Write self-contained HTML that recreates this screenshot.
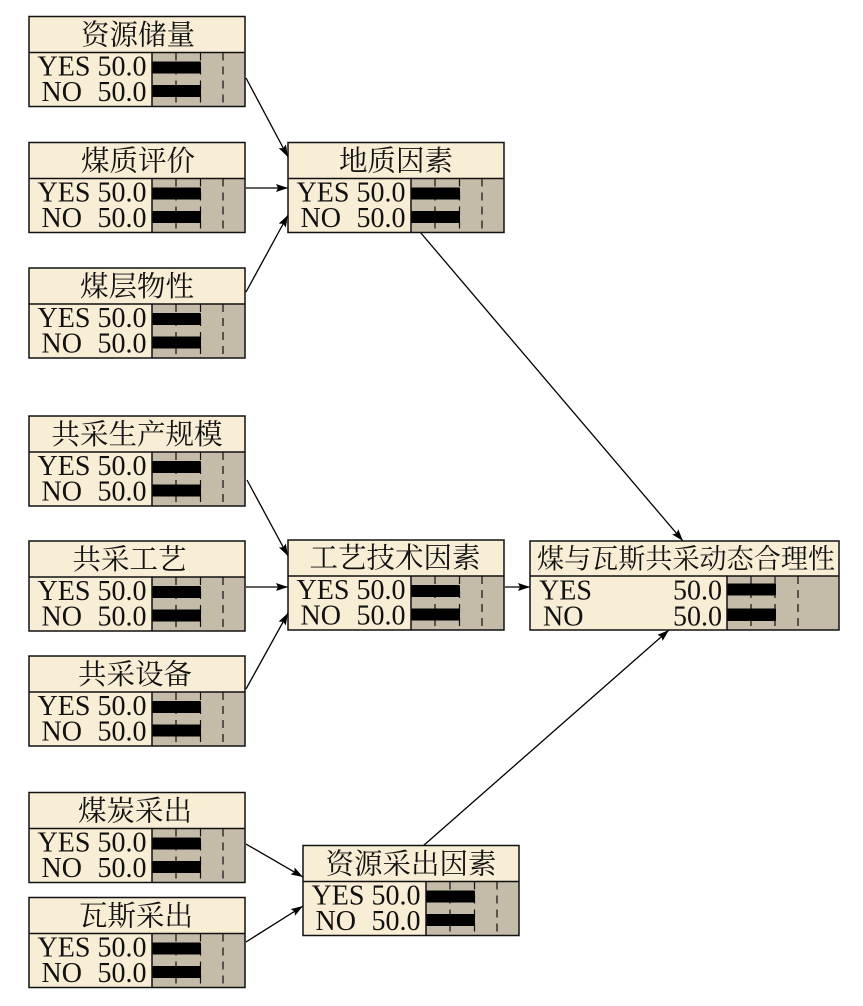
<!DOCTYPE html>
<html><head><meta charset="utf-8"><style>
html,body{margin:0;padding:0;background:#fff}
svg{display:block}
.t{font-family:"Liberation Serif","Noto Serif CJK SC",serif;font-size:28px;fill:#111}
.h{font-size:28.500px}
.c{text-anchor:middle}
.r{text-anchor:end}
.b{fill:#f8eed5}
.g{fill:#c4bba8}
</style></head><body>
<svg width="863" height="1006" viewBox="0 0 863 1006" xmlns="http://www.w3.org/2000/svg">
<defs>
<marker id="a" markerUnits="userSpaceOnUse" markerWidth="12" markerHeight="8" refX="12" refY="4" orient="auto"><path d="M0 0L12 4L0 8L2 4Z" fill="#000"/></marker>
<g id="n">
<rect x="0" y="0" width="216" height="90" class="b"/>
<rect x="123" y="36" width="93" height="54" class="g"/>
<path d="M147 36V90M171.500 36V90M194 36V90" stroke="#111" stroke-width="1.200" stroke-dasharray="8 6" fill="none"/>
<rect x="123" y="45" width="49" height="12" rx="1" fill="#000"/>
<rect x="123" y="68.500" width="49" height="12" rx="1" fill="#000"/>
<path d="M123 36V90M0 36H216" stroke="#111" stroke-width="1.500" fill="none"/>
<rect x="0" y="0" width="216" height="90" fill="none" stroke="#111" stroke-width="1.500"/>
</g>
<g id="m">
<rect x="0" y="0" width="309" height="89" class="b"/>
<rect x="197" y="35" width="112" height="54" class="g"/>
<path d="M221 35V89M245 35V89M268 35V89" stroke="#111" stroke-width="1.200" stroke-dasharray="8 6" fill="none"/>
<rect x="197" y="42.500" width="49" height="12" rx="1" fill="#000"/>
<rect x="197" y="67.500" width="49" height="12.500" rx="1" fill="#000"/>
<path d="M197 35V89M0 35H309" stroke="#111" stroke-width="1.500" fill="none"/>
<rect x="0" y="0" width="309" height="89" fill="none" stroke="#111" stroke-width="1.500"/>
</g>
</defs>

<g stroke="#000" stroke-width="1.300" fill="none">
<line x1="246" y1="78" x2="288" y2="157" marker-end="url(#a)"/>
<line x1="246" y1="188" x2="288" y2="188" marker-end="url(#a)"/>
<line x1="246" y1="292" x2="288" y2="215" marker-end="url(#a)"/>
<line x1="247" y1="480" x2="288" y2="556" marker-end="url(#a)"/>
<line x1="246" y1="587" x2="288" y2="587" marker-end="url(#a)"/>
<line x1="246" y1="689" x2="288" y2="613" marker-end="url(#a)"/>
<line x1="246" y1="844" x2="303" y2="877" marker-end="url(#a)"/>
<line x1="246" y1="942" x2="303" y2="906" marker-end="url(#a)"/>
<line x1="420" y1="232" x2="683" y2="541" marker-end="url(#a)"/>
<line x1="505" y1="587" x2="530" y2="587" marker-end="url(#a)"/>
<line x1="423" y1="846" x2="669" y2="630" marker-end="url(#a)"/>
</g>

<g transform="translate(29,16.500)"><use href="#n"/><text x="109" y="28" class="t h c">资源储量</text><text x="8.500" y="59" class="t">YES</text><text x="117.500" y="59" class="t r">50.0</text><text x="12.500" y="84.500" class="t">NO</text><text x="117.500" y="84.500" class="t r">50.0</text></g>
<g transform="translate(29,142.500)"><use href="#n"/><text x="109" y="28" class="t h c">煤质评价</text><text x="8.500" y="59" class="t">YES</text><text x="117.500" y="59" class="t r">50.0</text><text x="12.500" y="84.500" class="t">NO</text><text x="117.500" y="84.500" class="t r">50.0</text></g>
<g transform="translate(29,268)"><use href="#n"/><text x="108" y="28" class="t h c">煤层物性</text><text x="8.500" y="59" class="t">YES</text><text x="117.500" y="59" class="t r">50.0</text><text x="12.500" y="84.500" class="t">NO</text><text x="117.500" y="84.500" class="t r">50.0</text></g>
<g transform="translate(29,416)"><use href="#n"/><text x="108" y="28" class="t h c">共采生产规模</text><text x="8.500" y="59" class="t">YES</text><text x="117.500" y="59" class="t r">50.0</text><text x="12.500" y="84.500" class="t">NO</text><text x="117.500" y="84.500" class="t r">50.0</text></g>
<g transform="translate(29,541)"><use href="#n"/><text x="100.500" y="28" class="t h c">共采工艺</text><text x="8.500" y="59" class="t">YES</text><text x="117.500" y="59" class="t r">50.0</text><text x="12.500" y="84.500" class="t">NO</text><text x="117.500" y="84.500" class="t r">50.0</text></g>
<g transform="translate(29,656)"><use href="#n"/><text x="106" y="28" class="t h c">共采设备</text><text x="8.500" y="59" class="t">YES</text><text x="117.500" y="59" class="t r">50.0</text><text x="12.500" y="84.500" class="t">NO</text><text x="117.500" y="84.500" class="t r">50.0</text></g>
<g transform="translate(29,792.500)"><use href="#n"/><text x="106" y="28" class="t h c">煤炭采出</text><text x="8.500" y="59" class="t">YES</text><text x="117.500" y="59" class="t r">50.0</text><text x="12.500" y="84.500" class="t">NO</text><text x="117.500" y="84.500" class="t r">50.0</text></g>
<g transform="translate(29,897.500)"><use href="#n"/><text x="107" y="28" class="t h c">瓦斯采出</text><text x="8.500" y="59" class="t">YES</text><text x="117.500" y="59" class="t r">50.0</text><text x="12.500" y="84.500" class="t">NO</text><text x="117.500" y="84.500" class="t r">50.0</text></g>

<g transform="translate(288,142.500)"><use href="#n"/><text x="108" y="28" class="t h c">地质因素</text><text x="8.500" y="59" class="t">YES</text><text x="117.500" y="59" class="t r">50.0</text><text x="12.500" y="84.500" class="t">NO</text><text x="117.500" y="84.500" class="t r">50.0</text></g>
<g transform="translate(288,540)"><use href="#n"/><text x="107" y="27.500" class="t h c">工艺技术因素</text><text x="8.500" y="59" class="t">YES</text><text x="117.500" y="59" class="t r">50.0</text><text x="12.500" y="84.500" class="t">NO</text><text x="117.500" y="84.500" class="t r">50.0</text></g>
<g transform="translate(303,845.500)"><use href="#n"/><text x="108" y="28" class="t h c">资源采出因素</text><text x="8.500" y="59" class="t">YES</text><text x="117.500" y="59" class="t r">50.0</text><text x="12.500" y="84.500" class="t">NO</text><text x="117.500" y="84.500" class="t r">50.0</text></g>

<g transform="translate(530,541)"><use href="#m"/><text x="156" y="27" class="t c" style="font-size:27.100px">煤与瓦斯共采动态合理性</text><text x="9" y="58.500" class="t">YES</text><text x="192" y="58.500" class="t r">50.0</text><text x="13" y="84.500" class="t">NO</text><text x="192" y="84.500" class="t r">50.0</text></g>
</svg>
</body></html>
